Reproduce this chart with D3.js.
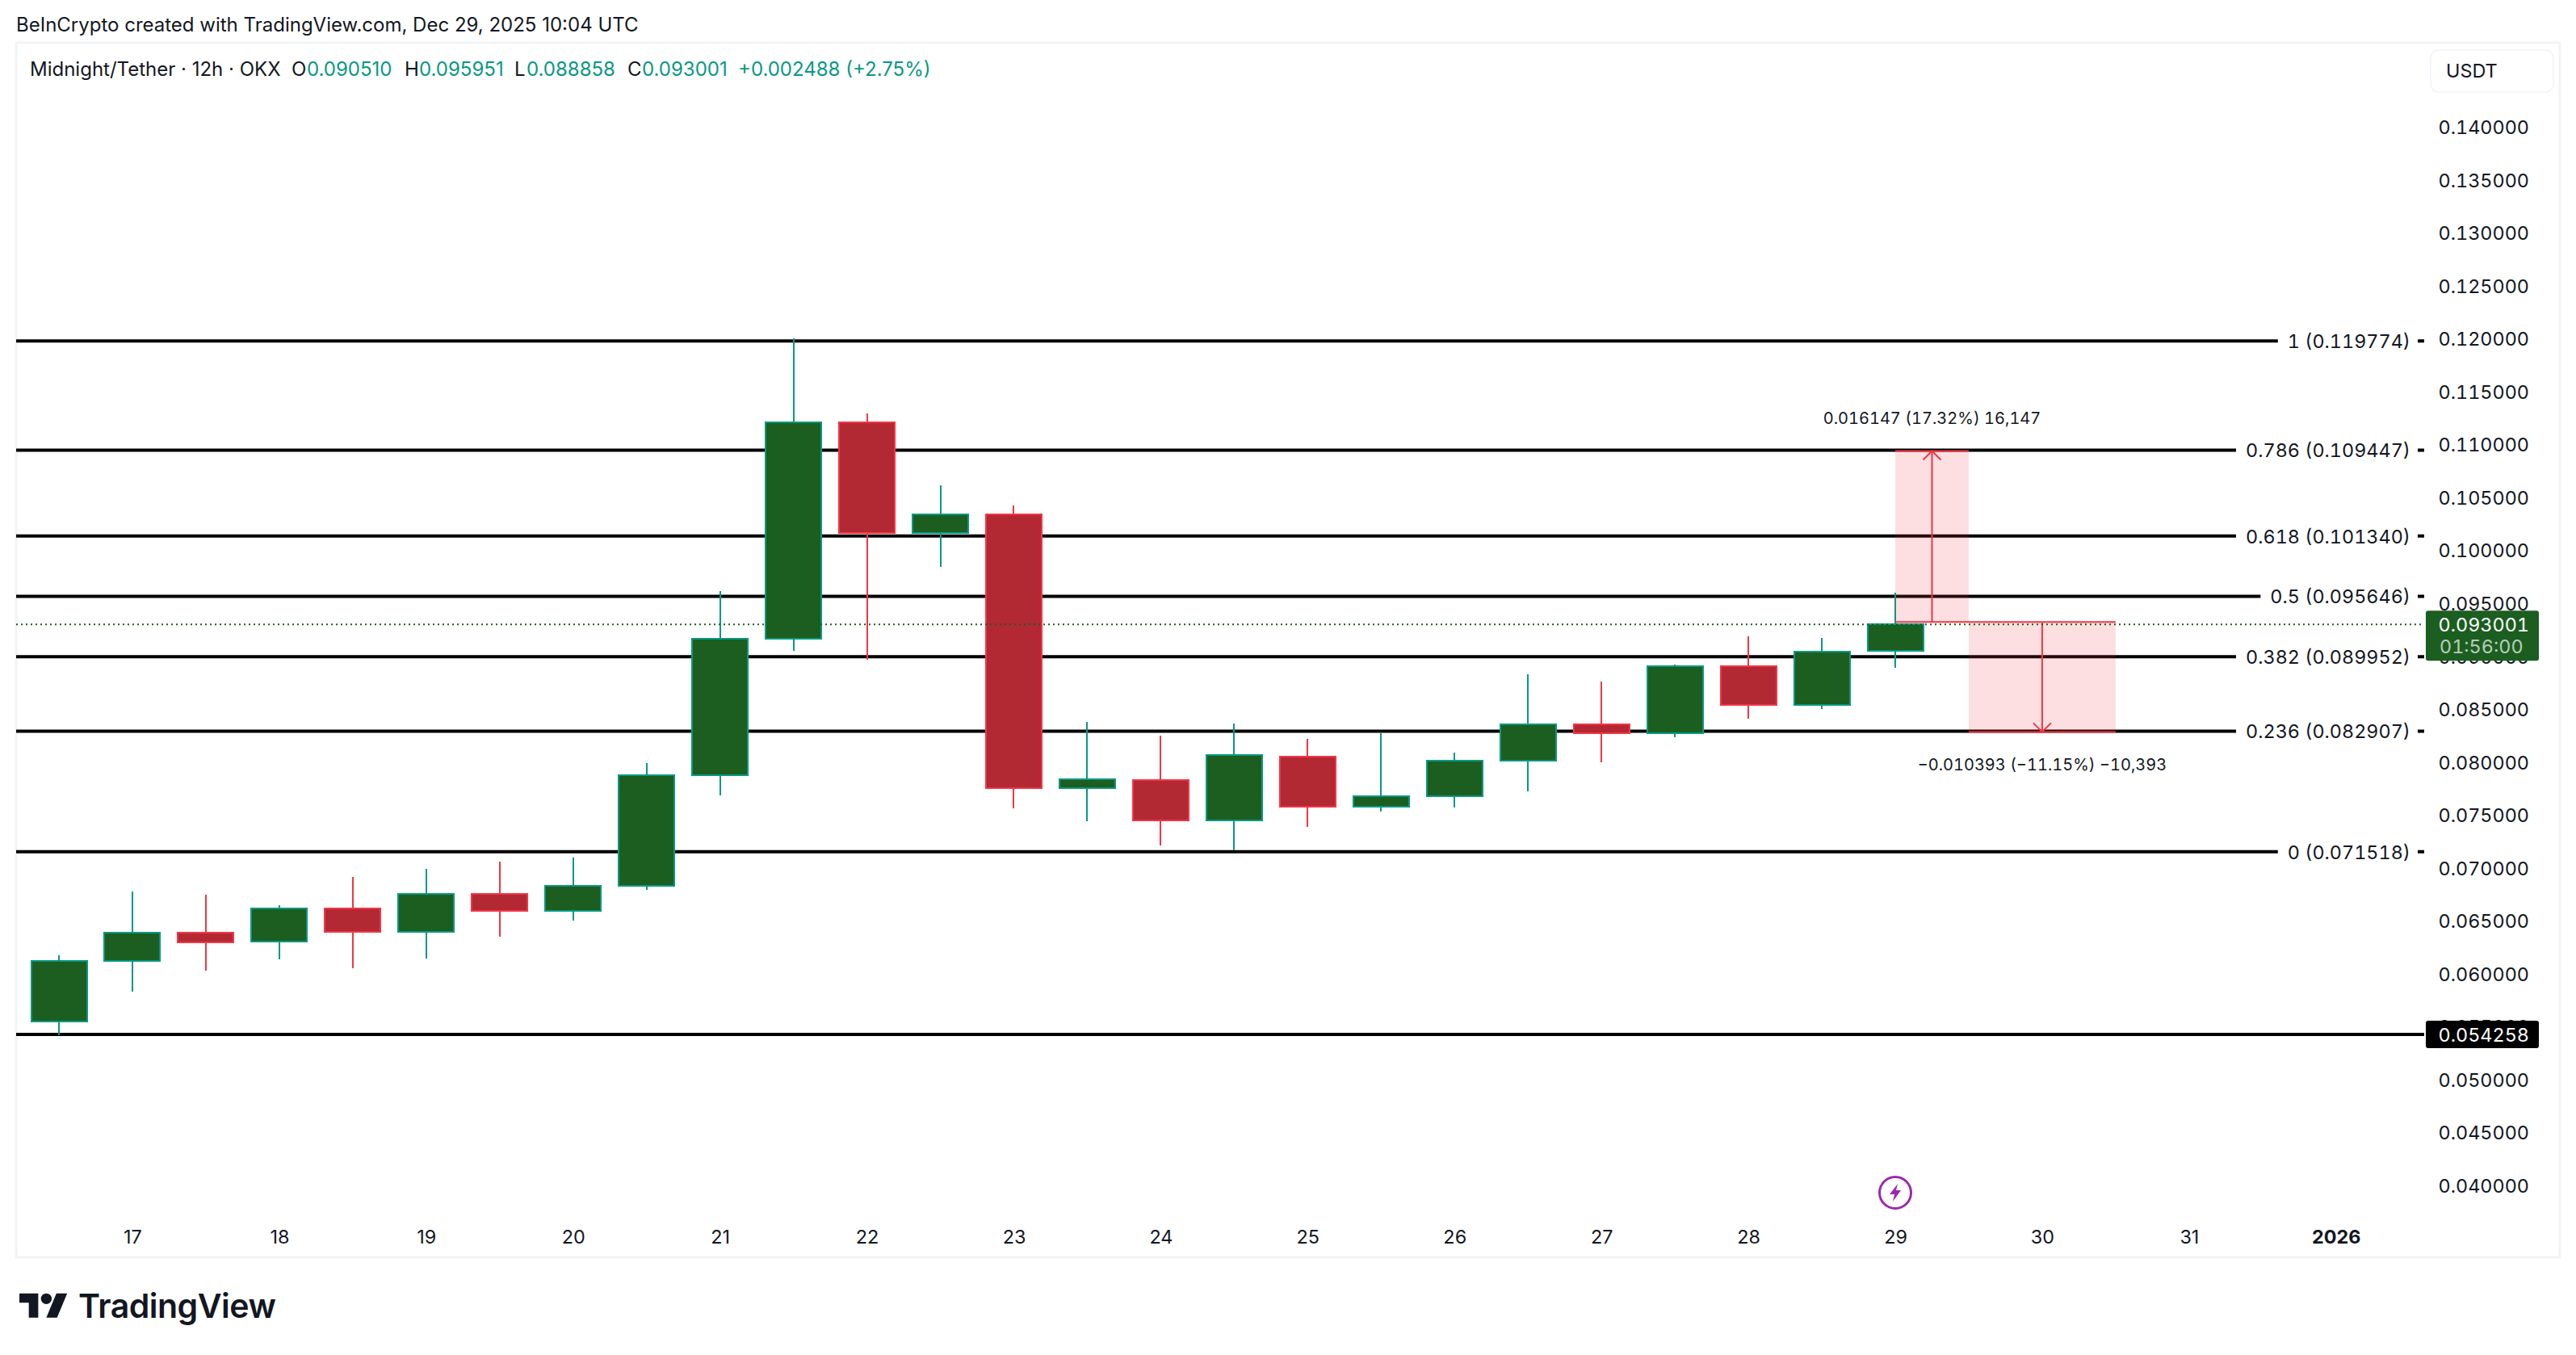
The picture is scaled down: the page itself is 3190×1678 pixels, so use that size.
<!DOCTYPE html>
<html>
<head>
<meta charset="utf-8">
<script src="https://cdn.jsdelivr.net/npm/d3@7"></script>
<style>
  html, body { margin: 0; background: #fff; }
  text { font-family: Inter, "Noto Sans", sans-serif; fill: #131722; }
</style>
</head>
<body>
<div id="chart"></div>
<script>
// 12h candles, first one opens Dec 16 12:00 UTC
const opens  = [0.05547, 0.06119, 0.06391, 0.06302, 0.06613, 0.06398, 0.06751, 0.06590, 0.06833, 0.07877, 0.09161, 0.11207, 0.10166, 0.10339, 0.07751, 0.07830, 0.07448, 0.08054, 0.07578, 0.07680, 0.08016, 0.08352, 0.08268, 0.08908, 0.08542, 0.09051];
const highs  = [0.06174, 0.06774, 0.06744, 0.06645, 0.06912, 0.06989, 0.07057, 0.07097, 0.07986, 0.09614, 0.12000, 0.11290, 0.10612, 0.10421, 0.08381, 0.08245, 0.08362, 0.08217, 0.08270, 0.08087, 0.08827, 0.08758, 0.08918, 0.09185, 0.09170, 0.095951];
const lows   = [0.05415, 0.05831, 0.06026, 0.06134, 0.06052, 0.06144, 0.06349, 0.06500, 0.06790, 0.07683, 0.09049, 0.08967, 0.09846, 0.07564, 0.07442, 0.07214, 0.07164, 0.07387, 0.07530, 0.07568, 0.07721, 0.07995, 0.08234, 0.08410, 0.08501, 0.088858];
const closes = [0.06119, 0.06391, 0.06299, 0.06613, 0.06398, 0.06751, 0.06590, 0.06833, 0.07877, 0.09161, 0.11207, 0.10166, 0.10339, 0.07751, 0.07837, 0.07451, 0.08062, 0.07578, 0.07680, 0.08016, 0.08352, 0.08268, 0.08908, 0.08542, 0.09043, 0.093001];

const fibRatios = ["1", "0.786", "0.618", "0.5", "0.382", "0.236", "0"];
const fibPrices = [0.119774, 0.109447, 0.101340, 0.095646, 0.089952, 0.082907, 0.071518];
const supportPrice = 0.054258;
const lastPrice = 0.093001;

const priceTicks = [0.140, 0.135, 0.130, 0.125, 0.120, 0.115, 0.110, 0.105, 0.100, 0.095, 0.090, 0.085, 0.080, 0.075, 0.070, 0.065, 0.060, 0.055, 0.050, 0.045, 0.040];
const dayTicks = [17, 18, 19, 20, 21, 22, 23, 24, 25, 26, 27, 28, 29, 30, 31].map(d => new Date(Date.UTC(2025, 11, d))).concat(new Date(Date.UTC(2026, 0, 1)));

// price range tool
const measureStart = 0.09323;
const measureUp = 0.109377;
const measureDown = 0.082837;

const width = 3190;
const height = 1678;
const panel = { left: 20, top: 53, right: 3170, bottom: 1557 };
const green = "#089981";
const red = "#f23645";
const greenBody = "#1b5e20";
const redBody = "#b22833";
const fontSize = 23.4;

const x = d3.scaleUtc()
    .domain([new Date(Date.UTC(2025, 11, 16, 12)), new Date(Date.UTC(2026, 0, 1))])
    .range([73, 2892.8]);
const y = d3.scaleLinear().domain([0.04, 0.14]).range([1468, 157]);

const candles = opens.map((o, i) => ({
    time: d3.utcHour.offset(new Date(Date.UTC(2025, 11, 16, 12)), 12 * i),
    o, h: highs[i], l: lows[i], c: closes[i], up: closes[i] >= o
}));

const svg = d3.select("#chart").append("svg")
    .attr("width", width)
    .attr("height", height)
    .attr("viewBox", [0, 0, width, height])
    .style("display", "block")
    .attr("font-size", fontSize);

svg.append("text")
    .attr("x", 20).attr("y", 39).attr("font-size", 24)
    .text("BeInCrypto created with TradingView.com, Dec 29, 2025 10:04 UTC");

svg.append("rect")
    .attr("x", panel.left).attr("y", panel.top)
    .attr("width", panel.right - panel.left).attr("height", panel.bottom - panel.top)
    .attr("fill", "#fff").attr("stroke", "#f2f3f5").attr("stroke-width", 3);

// legend row
const legend = [
    [37, "Midnight/Tether · 12h · OKX", "#131722"],
    [361, "O", "#131722"], [380, "0.090510", green],
    [501, "H", "#131722"], [519, "0.095951", green],
    [637, "L", "#131722"], [652, "0.088858", green],
    [777, "C", "#131722"], [795, "0.093001", green],
    [914, "+0.002488 (+2.75%)", green]
];
svg.append("g").selectAll("text").data(legend).join("text")
    .attr("x", d => d[0]).attr("y", 94).attr("font-size", 24)
    .style("fill", d => d[2])
    .text(d => d[1]);

// price axis
const yAxis = svg.append("g")
    .attr("transform", "translate(3132,1)")
    .call(d3.axisLeft(y).tickValues(priceTicks).tickSize(0).tickPadding(0).tickFormat(d3.format(".6f")));
yAxis.select(".domain").remove();
yAxis.selectAll("text").attr("font-size", fontSize).attr("font-family", null).style("font-feature-settings", "'tnum'");

// time axis
const xAxis = svg.append("g")
    .attr("transform", "translate(0,1523)")
    .call(d3.axisBottom(x).tickValues(dayTicks).tickSize(0).tickPadding(0)
        .tickFormat(d => d.getUTCFullYear() === 2026 ? "2026" : d3.utcFormat("%-d")(d)));
xAxis.select(".domain").remove();
xAxis.selectAll("text").attr("font-size", fontSize).attr("font-family", null)
    .attr("font-weight", d => d.getUTCFullYear() === 2026 ? 700 : 400);

// fib levels sit behind the candles
const fibs = svg.append("g");
fibs.selectAll("line").data(fibPrices.concat(supportPrice)).join("line")
    .attr("x1", panel.left).attr("x2", 3002)
    .attr("y1", d => y(d)).attr("y2", d => y(d))
    .attr("stroke", "#000").attr("stroke-width", 4);

const fibLabels = svg.append("g").selectAll("g").data(fibPrices).join("g")
    .attr("transform", d => `translate(2985,${y(d)})`);
fibLabels.append("text")
    .attr("text-anchor", "end").attr("dy", "0.38em")
    .style("font-feature-settings", "'tnum'")
    .text((d, i) => `${fibRatios[i]} (${d3.format(".6f")(d)})`);
fibLabels.insert("rect", "text")
    .each(function () {
        const w = this.parentNode.querySelector("text").getComputedTextLength();
        d3.select(this).attr("x", -w - 12).attr("width", w + 21);
    })
    .attr("y", -16).attr("height", 32).attr("fill", "#fff");

// candles
const candle = svg.append("g").selectAll("g").data(candles).join("g")
    .attr("shape-rendering", "crispEdges");
candle.append("line")
    .attr("x1", d => x(d.time)).attr("x2", d => x(d.time))
    .attr("y1", d => y(d.h)).attr("y2", d => y(d.l))
    .attr("stroke", d => d.up ? green : red).attr("stroke-width", 2);
candle.append("rect")
    .attr("x", d => x(d.time) - 34.5)
    .attr("width", 69)
    .attr("y", d => y(Math.max(d.o, d.c)))
    .attr("height", d => Math.abs(y(d.o) - y(d.c)))
    .attr("fill", d => d.up ? greenBody : redBody)
    .attr("stroke", d => d.up ? green : red).attr("stroke-width", 2);

// price range boxes, upper spans Dec 29 00:00 to 12:00, lower Dec 29 12:00 to Dec 30 12:00
const measures = [
    { x0: new Date(Date.UTC(2025, 11, 29)), x1: new Date(Date.UTC(2025, 11, 29, 12)), to: measureUp, label: "0.016147 (17.32%) 16,147", labelY: 525 },
    { x0: new Date(Date.UTC(2025, 11, 29, 12)), x1: new Date(Date.UTC(2025, 11, 30, 12)), to: measureDown, label: "\u22120.010393 (\u221211.15%) \u221210,393", labelY: 954 }
];
const measure = svg.append("g").selectAll("g").data(measures).join("g");
measure.append("rect")
    .attr("x", d => x(d.x0)).attr("width", d => x(d.x1) - x(d.x0))
    .attr("y", d => Math.min(y(measureStart), y(d.to)))
    .attr("height", d => Math.abs(y(d.to) - y(measureStart)))
    .attr("fill", red).attr("fill-opacity", 0.16);
measure.selectAll(".edge").data(d => [measureStart, d.to].map(p => ({ ...d, p }))).join("line")
    .attr("x1", d => x(d.x0)).attr("x2", d => x(d.x1))
    .attr("y1", d => y(d.p)).attr("y2", d => y(d.p))
    .attr("stroke", red).attr("stroke-width", 2);
const midX = d => (x(d.x0) + x(d.x1)) / 2;
measure.append("line")
    .attr("x1", midX).attr("x2", midX)
    .attr("y1", y(measureStart)).attr("y2", d => y(d.to))
    .attr("stroke", red).attr("stroke-width", 2);
measure.append("path")
    .attr("d", d => {
        const tip = y(d.to), back = tip + (d.to > measureStart ? 11 : -11), m = midX(d);
        return `M${m - 11},${back}L${m},${tip}L${m + 11},${back}`;
    })
    .attr("fill", "none").attr("stroke", red).attr("stroke-width", 2);
measure.append("text")
    .attr("x", midX).attr("y", d => d.labelY)
    .attr("text-anchor", "middle").attr("font-size", 20)
    .style("font-feature-settings", "'tnum'")
    .text(d => d.label);

// last price line and badges
svg.append("line")
    .attr("x1", panel.left).attr("x2", 3000)
    .attr("y1", y(lastPrice)).attr("y2", y(lastPrice))
    .attr("stroke", greenBody).attr("stroke-width", 2).attr("stroke-dasharray", "2 4");

svg.append("rect")
    .attr("x", 3004).attr("width", 140).attr("y", y(lastPrice) - 17).attr("height", 62)
    .attr("rx", 3).attr("fill", greenBody);
svg.append("text")
    .attr("x", 3132).attr("y", y(lastPrice)).attr("dy", "0.36em").attr("text-anchor", "end")
    .style("fill", "#fff").style("font-feature-settings", "'tnum'")
    .text(d3.format(".6f")(lastPrice));
svg.append("text")
    .attr("x", 3021).attr("y", y(lastPrice) + 27).attr("dy", "0.36em")
    .style("fill", "#fff").style("fill-opacity", 0.7)
    .style("font-feature-settings", "'tnum'")
    .text("01:56:00");

svg.append("rect")
    .attr("x", 3004).attr("width", 140).attr("y", y(supportPrice) - 17).attr("height", 34)
    .attr("rx", 3).attr("fill", "#000");
svg.append("text")
    .attr("x", 3132).attr("y", y(supportPrice)).attr("dy", "0.36em").attr("text-anchor", "end")
    .style("fill", "#fff").style("font-feature-settings", "'tnum'")
    .text(d3.format(".6f")(supportPrice));

// currency button
svg.append("rect")
    .attr("x", 3010).attr("y", 62).attr("width", 152).attr("height", 52).attr("rx", 10)
    .attr("fill", "#fff").attr("stroke", "#f0f3fa").attr("stroke-width", 1.5);
svg.append("text").attr("x", 3029).attr("y", 96).text("USDT");

// dividend marker
const marker = svg.append("g").attr("transform", `translate(${x(new Date(Date.UTC(2025, 11, 29)))},1477)`);
marker.append("circle").attr("r", 19.5).attr("fill", "#fff").attr("stroke", "#9c27b0").attr("stroke-width", 3);
marker.append("path").attr("d", "M3,-11L-7,2H-1L-3,11L7,-3H1Z").attr("fill", "#9c27b0");

// logo
const logo = svg.append("g").attr("transform", "translate(24,1595) scale(1.667)").attr("fill", "#131722");
logo.append("path").attr("d", "M14 22H7V11H0V4h14v18zM28 22h-8l7.5-18h8L28 22z");
logo.append("circle").attr("cx", 20).attr("cy", 8).attr("r", 4);
svg.append("text")
    .attr("x", 97).attr("y", 1632)
    .attr("font-size", 41).attr("font-weight", 600).attr("letter-spacing", -0.5)
    .text("TradingView");
</script>
</body>
</html>
